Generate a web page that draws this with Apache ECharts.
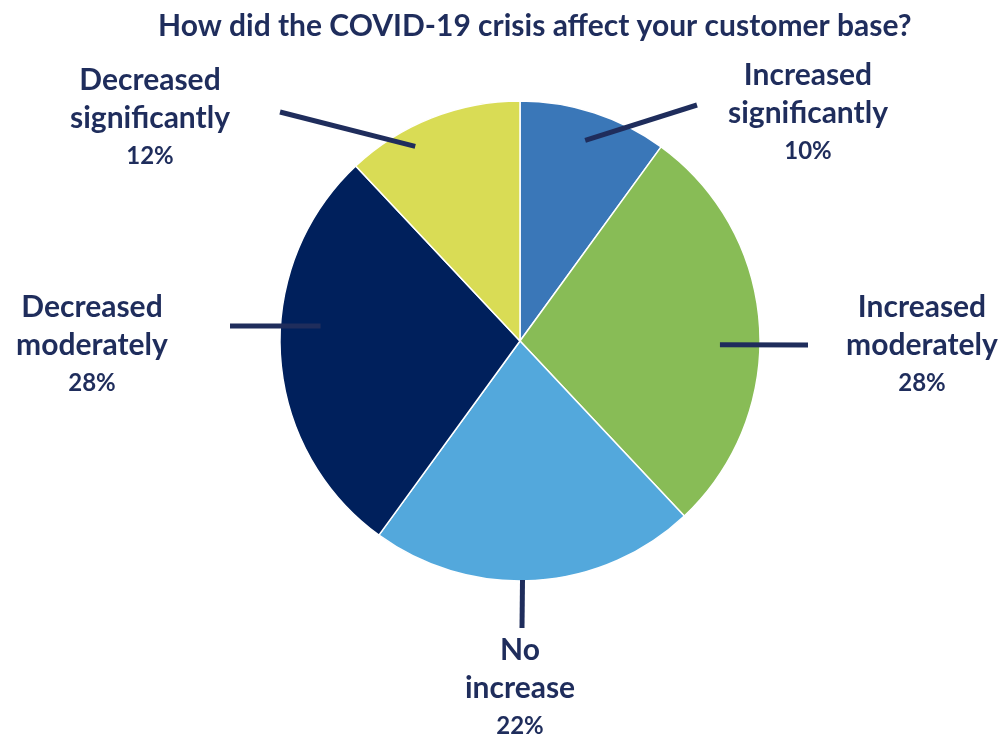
<!DOCTYPE html>
<html>
<head>
<meta charset="utf-8">
<script src="https://cdn.jsdelivr.net/npm/echarts@6/dist/echarts.min.js"></script>
<style>
  html, body { margin: 0; padding: 0; background: #fff; }
  #chart { width: 1008px; height: 735px; }
</style>
</head>
<body>
<div id="chart"></div>
<script>
// data
const categories = ['Increased significantly', 'Increased moderately', 'No increase', 'Decreased moderately', 'Decreased significantly']
const labelLines = [['Increased', 'significantly'], ['Increased', 'moderately'], ['No', 'increase'], ['Decreased', 'moderately'], ['Decreased', 'significantly']]
const values = [10, 28, 22, 28, 12]

const colors = ['#3a77b8', '#88bc56', '#53a8dc', '#00205c', '#d9dc55']
const navy = '#1f2d5c'

// label placement (layout only)
const center = [520, 341]
const radius = 240
const labelPos = [[808, 113], [922, 345], [520, 688], [92, 345], [150, 118]]
const lineStartR = [211, 200, 239, 200, 221]
const lineStartAdj = [0, 4.7, 3, 7.9, -6.7] // degrees
const lineEnd = [[697, 105], [808, 345], [522, 628], [230, 326], [280, 112]]

const total = values.reduce((a, b) => a + b, 0)
const midAngles = []
let acc = 0
values.forEach(v => {
    midAngles.push((acc + v / 2) / total * 2 * Math.PI)
    acc += v
})

const data = categories.map((c, i) => ({ name: c, value: values[i] }))

const chart = echarts.init(document.getElementById('chart'))

chart.setOption({
    animation: false,
    title: {
        text: 'How did the COVID-19 crisis affect your customer base?',
        left: 153,
        top: 6,
        textStyle: { fontFamily: 'Lato', fontSize: 30, fontWeight: 'bold', color: navy }
    },
    color: colors,
    series: [{
        // slices
        type: 'pie',
        center: center,
        radius: radius,
        startAngle: 90,
        silent: true,
        z: 2,
        itemStyle: { borderColor: '#fff', borderWidth: 1.5 },
        label: { show: false },
        labelLine: { show: false },
        data: data
    }, {
        // transparent copy on top, carries labels and leader lines
        type: 'pie',
        center: center,
        radius: radius,
        startAngle: 90,
        silent: true,
        z: 5,
        avoidLabelOverlap: false,
        itemStyle: { color: 'rgba(0,0,0,0)', borderWidth: 0 },
        label: {
            show: true,
            position: 'outside',
            formatter: p => '{n|' + labelLines[p.dataIndex].join('}\n{n|') + '}\n{p|' + p.value + '%}',
            rich: {
                n: { fontFamily: 'Lato', fontSize: 30, fontWeight: 'bold', color: navy, lineHeight: 38, align: 'center' },
                p: { fontFamily: 'Lato', fontSize: 24, fontWeight: 'bold', color: navy, lineHeight: 38, align: 'center' }
            }
        },
        labelLine: {
            show: true,
            length: 20,
            length2: 0,
            lineStyle: { color: navy, width: 5 }
        },
        labelLayout: params => {
            const i = params.dataIndex
            const a = midAngles[i] + lineStartAdj[i] * Math.PI / 180
            const start = [center[0] + lineStartR[i] * Math.sin(a), center[1] - lineStartR[i] * Math.cos(a)]
            return {
                x: labelPos[i][0],
                y: labelPos[i][1],
                align: 'center',
                verticalAlign: 'middle',
                labelLinePoints: [start, lineEnd[i]]
            }
        },
        data: data
    }]
})
</script>
</body>
</html>
